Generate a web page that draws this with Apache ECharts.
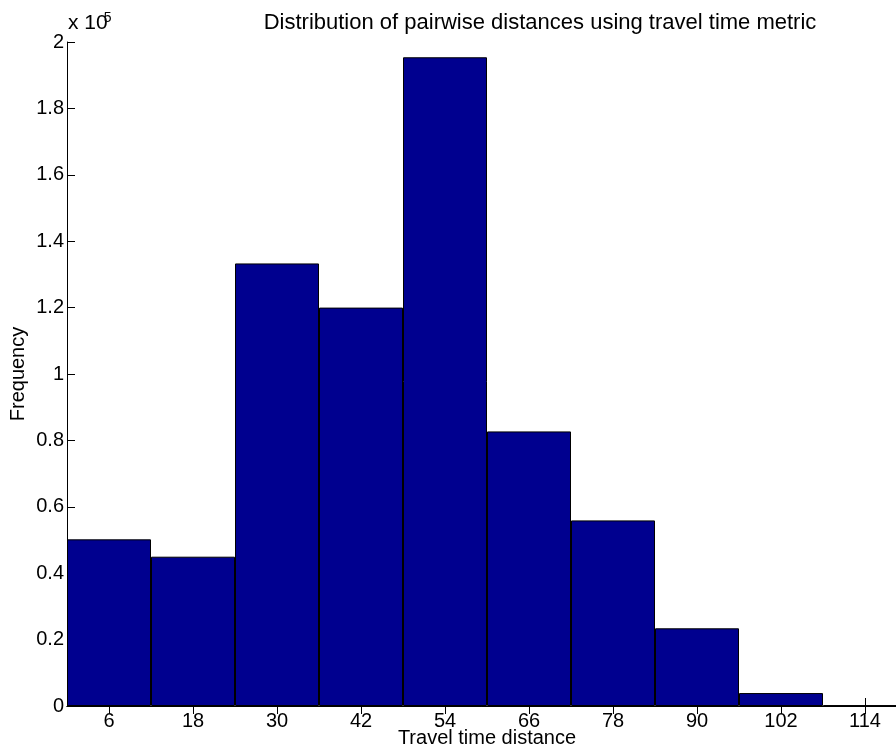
<!DOCTYPE html>
<html>
<head>
<meta charset="utf-8">
<script src="https://cdn.jsdelivr.net/npm/echarts@6/dist/echarts.min.js"></script>
<style>
  html, body { margin: 0; padding: 0; background: #fff; }
  #chart { width: 896px; height: 750px; }
</style>
</head>
<body>
<div id="chart"></div>
<script>
// Bin centres of the travel-time histogram (minutes)
const binCenters = ['6', '18', '30', '42', '54', '66', '78', '90', '102', '114'];
// Number of node pairs falling in each bin
const frequencies = [50200, 44970, 133300, 120000, 195400, 82700, 55900, 23400, 3900, 200];
// Frequency axis ticks, shown scaled by 1e5
const yTicks = [0, 20000, 40000, 60000, 80000, 100000, 120000, 140000, 160000, 180000, 200000];

const FONT = 'Liberation Sans, Arial, sans-serif';
const FS = 20;
const chart = echarts.init(document.getElementById('chart'), null, { renderer: 'canvas' });

const yLabel = v => String(Number((v / 1e5).toFixed(1)));

chart.setOption({
  animation: false,
  backgroundColor: '#ffffff',
  textStyle: { fontFamily: FONT },
  title: {
    text: 'Distribution of pairwise distances using travel time metric',
    left: 535,
    top: 7,
    textAlign: 'center',
    textStyle: { fontFamily: FONT, fontSize: 22, fontWeight: 'normal', color: '#000' }
  },
  graphic: [{
    type: 'text',
    left: 68,
    top: 11,
    style: {
      text: '{b|x 10}{s|5}',
      rich: {
        b: { fontFamily: FONT, fontSize: 21, fill: '#000', verticalAlign: 'bottom' },
        s: { fontFamily: FONT, fontSize: 14, fill: '#000', padding: [0, 0, 9, -4], verticalAlign: 'bottom' }
      }
    }
  }],
  grid: { left: 67, top: 42, width: 840, height: 664, containLabel: false, outerBoundsMode: 'none' },
  xAxis: [{
    type: 'category',
    data: binCenters,
    position: 'bottom',
    boundaryGap: true,
    name: 'Travel time distance',
    nameLocation: 'middle',
    nameGap: 22,
    nameMoveOverlap: false,
    nameTextStyle: { fontFamily: FONT, fontSize: FS, color: '#000' },
    axisLine: { lineStyle: { color: '#000', width: 1 } },
    axisTick: { show: true, inside: true, length: 8, alignWithLabel: true, lineStyle: { color: '#000' } },
    axisLabel: { fontFamily: FONT, fontSize: FS, color: '#000', margin: 5 },
    splitLine: { show: false }
  }, {
    type: 'category',
    data: binCenters,
    position: 'top',
    boundaryGap: true,
    axisLine: { lineStyle: { color: '#000', width: 1 } },
    axisTick: { show: true, inside: true, length: 8, alignWithLabel: true, lineStyle: { color: '#000' } },
    axisLabel: { show: false },
    splitLine: { show: false }
  }],
  yAxis: [{
    type: 'value',
    min: yTicks[0],
    max: yTicks[yTicks.length - 1],
    interval: yTicks[1] - yTicks[0],
    position: 'left',
    name: 'Frequency',
    nameLocation: 'middle',
    nameGap: 39,
    nameMoveOverlap: false,
    nameRotate: 90,
    nameTextStyle: { fontFamily: FONT, fontSize: FS, color: '#000' },
    axisLine: { show: true, lineStyle: { color: '#000', width: 1 } },
    axisTick: { show: true, inside: true, length: 8, lineStyle: { color: '#000' } },
    axisLabel: { fontFamily: FONT, fontSize: FS, color: '#000', margin: 3, formatter: yLabel },
    splitLine: { show: false }
  }, {
    type: 'value',
    min: yTicks[0],
    max: yTicks[yTicks.length - 1],
    interval: yTicks[1] - yTicks[0],
    position: 'right',
    axisLine: { show: true, lineStyle: { color: '#000', width: 1 } },
    axisTick: { show: true, inside: true, length: 8, lineStyle: { color: '#000' } },
    axisLabel: { show: false },
    splitLine: { show: false }
  }],
  series: [{
    type: 'bar',
    data: frequencies,
    xAxisIndex: 0,
    yAxisIndex: 0,
    barCategoryGap: '0%',
    itemStyle: { color: '#00008F', borderColor: '#000', borderWidth: 1 },
    emphasis: { disabled: true }
  }]
});
</script>
</body>
</html>
